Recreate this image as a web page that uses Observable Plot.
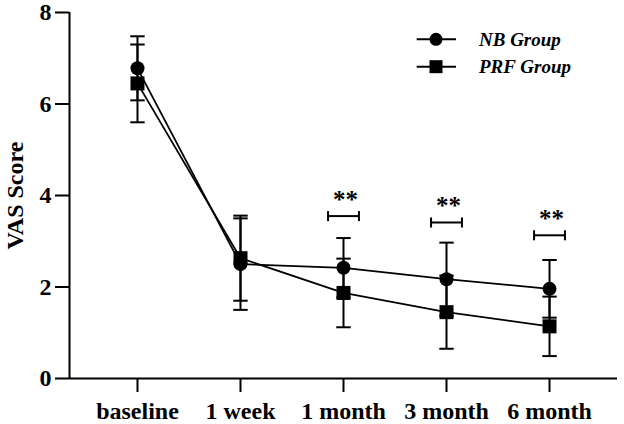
<!DOCTYPE html>
<html>
<head>
<meta charset="utf-8">
<script src="https://cdn.jsdelivr.net/npm/d3@7"></script>
<script src="https://cdn.jsdelivr.net/npm/@observablehq/plot@0.6"></script>
<style>
  html, body { margin: 0; padding: 0; background: #fff; }
  #wrap { position: relative; width: 624px; height: 424px; }
  #legend { position: absolute; left: 410px; top: 20px; }
</style>
</head>
<body>
<div id="wrap"></div>
<script>
const timepoints = ["baseline", "1 week", "1 month", "3 month", "6 month"];
const nbMean  = [6.78, 2.50, 2.42, 2.17, 1.96];
const nbSD    = [0.70, 1.00, 0.65, 0.80, 0.63];
const prfMean = [6.45, 2.63, 1.87, 1.45, 1.14];
const prfSD   = [0.85, 0.93, 0.75, 0.80, 0.65];
const sigIndex   = [2, 3, 4];
const sigBracket = [3.55, 3.41, 3.13];
const sigLabel   = ["**", "**", "**"];
const yTicks = [0, 2, 4, 6, 8];
const groups = ["NB Group", "PRF Group"];

const xDomain = [-0.66, 4.66];
const capHalf = 0.07;
const bracketHalf = 0.15;
const bracketLeg = 0.11;

const rows = [];
timepoints.forEach((t, i) => {
  rows.push({i, group: groups[0], mean: nbMean[i], sd: nbSD[i]});
  rows.push({i, group: groups[1], mean: prfMean[i], sd: prfSD[i]});
});
const nb = rows.filter(d => d.group === groups[0]);
const prf = rows.filter(d => d.group === groups[1]);
const sig = sigIndex.map((i, k) => ({i, y: sigBracket[k], label: sigLabel[k]}));

const chart = Plot.plot({
  width: 624,
  height: 424,
  marginLeft: 69,
  marginRight: 7,
  marginTop: 12,
  marginBottom: 46,
  style: {fontFamily: "'Liberation Serif', 'Times New Roman', serif", fontWeight: "bold", color: "#000", background: "#fff"},
  x: {domain: xDomain},
  y: {domain: [0, 8]},
  marks: [
    Plot.axisY({ticks: yTicks, tickSize: 14, tickPadding: 4, fontSize: 24, strokeWidth: 2, label: null}),
    Plot.axisX({ticks: [0, 1, 2, 3, 4], tickFormat: i => timepoints[i], tickSize: 14, tickPadding: 9.5, fontSize: 24, strokeWidth: 2, label: null}),
    Plot.ruleX([xDomain[0]], {y1: 0, y2: 8, strokeWidth: 2}),
    Plot.ruleY([0], {x1: xDomain[0], x2: xDomain[1], strokeWidth: 2}),
    Plot.text(["VAS Score"], {frameAnchor: "left", textAnchor: "middle", lineAnchor: "middle", rotate: -90, dx: -54, fontSize: 24, fontWeight: "bold"}),
    // error bars
    Plot.ruleX(rows, {x: "i", y1: d => d.mean - d.sd, y2: d => d.mean + d.sd, strokeWidth: 2}),
    Plot.link(rows, {x1: d => d.i - capHalf, x2: d => d.i + capHalf, y1: d => d.mean + d.sd, y2: d => d.mean + d.sd, strokeWidth: 2}),
    Plot.link(rows, {x1: d => d.i - capHalf, x2: d => d.i + capHalf, y1: d => d.mean - d.sd, y2: d => d.mean - d.sd, strokeWidth: 2}),
    // lines
    Plot.line(nb, {x: "i", y: "mean", stroke: "#000", strokeWidth: 1.8}),
    Plot.line(prf, {x: "i", y: "mean", stroke: "#000", strokeWidth: 1.8}),
    // markers
    Plot.dot(nb, {x: "i", y: "mean", r: 7, fill: "#000", symbol: "circle"}),
    Plot.dot(prf, {x: "i", y: "mean", r: 7.9, fill: "#000", symbol: "square"}),
    // significance brackets
    Plot.link(sig, {x1: d => d.i - bracketHalf, x2: d => d.i + bracketHalf, y1: "y", y2: "y", strokeWidth: 2}),
    Plot.link(sig, {x1: d => d.i - bracketHalf, x2: d => d.i - bracketHalf, y1: d => d.y - bracketLeg, y2: d => d.y + bracketLeg, strokeWidth: 2}),
    Plot.link(sig, {x1: d => d.i + bracketHalf, x2: d => d.i + bracketHalf, y1: d => d.y - bracketLeg, y2: d => d.y + bracketLeg, strokeWidth: 2}),
    Plot.text(sig, {x: "i", y: "y", text: "label", dx: 2, dy: -16, fontSize: 25, fontWeight: "bold"})
  ]
});

const wrap = document.getElementById("wrap");
wrap.appendChild(chart);

// legend
const ns = "http://www.w3.org/2000/svg";
const leg = document.createElementNS(ns, "svg");
leg.setAttribute("id", "legend");
leg.setAttribute("width", 200);
leg.setAttribute("height", 65);
groups.forEach((g, k) => {
  const cy = 19.3 + k * 27.4;
  const line = document.createElementNS(ns, "line");
  line.setAttribute("x1", 6.7); line.setAttribute("x2", 46);
  line.setAttribute("y1", cy); line.setAttribute("y2", cy);
  line.setAttribute("stroke", "#000"); line.setAttribute("stroke-width", 2);
  leg.appendChild(line);
  let sym;
  if (k === 0) {
    sym = document.createElementNS(ns, "circle");
    sym.setAttribute("cx", 26); sym.setAttribute("cy", cy); sym.setAttribute("r", 6.5);
  } else {
    sym = document.createElementNS(ns, "rect");
    sym.setAttribute("x", 19.5); sym.setAttribute("y", cy - 6.5);
    sym.setAttribute("width", 13); sym.setAttribute("height", 13);
  }
  sym.setAttribute("fill", "#000");
  leg.appendChild(sym);
  const tx = document.createElementNS(ns, "text");
  tx.setAttribute("x", 69); tx.setAttribute("y", cy);
  tx.setAttribute("dy", "0.35em");
  tx.setAttribute("font-family", "'Liberation Serif', 'Times New Roman', serif");
  tx.setAttribute("font-weight", "bold");
  tx.setAttribute("font-style", "italic");
  tx.setAttribute("font-size", 19);
  tx.textContent = g;
  leg.appendChild(tx);
});
wrap.appendChild(leg);
</script>
</body>
</html>
